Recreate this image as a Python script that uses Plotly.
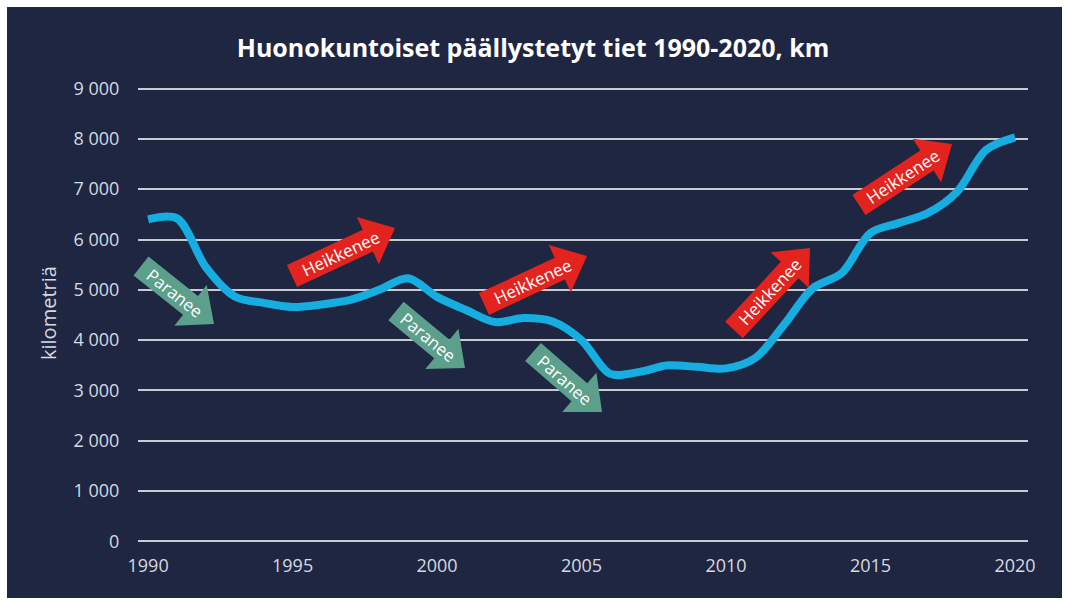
import math
import plotly.graph_objects as go

# ---- data ----
years = list(range(1990, 2021))
km = [6400, 6420, 5450, 4870, 4740, 4660, 4710, 4800, 5000, 5230,
      4860, 4600, 4360, 4440, 4370, 4000, 3330, 3370, 3500, 3470,
      3440, 3640, 4300, 5030, 5330, 6130, 6330, 6530, 6950, 7780, 8030]
y_tickvals = [0, 1000, 2000, 3000, 4000, 5000, 6000, 7000, 8000, 9000]
y_ticktext = ["0", "1 000", "2 000", "3 000", "4 000", "5 000", "6 000", "7 000", "8 000", "9 000"]
x_tickvals = [1990, 1995, 2000, 2005, 2010, 2015, 2020]
title_text = "Huonokuntoiset päällystetyt tiet 1990-2020, km"
y_title = "kilometriä"

# ---- layout geometry (pixels) ----
W, H = 1068, 604
L, R, T, B = 138, 40, 86, 60
PW, PH = W - L - R, H - T - B
BG = "#1f2642"
FONT = "Open Sans"
TICKCOL = "#d6d9e0"

def px(x):
    return (x - L) / PW

def py(y):
    return (H - B - y) / PH

# arrow annotations: (label, colour, tail centre, tip) in pixels
GREEN = "#5c9f8a"
RED = "#e3231d"
arrows = [
    ("Paranee", GREEN, (141, 266), (214, 324)),
    ("Heikkenee", RED, (292, 276), (395, 228)),
    ("Paranee", GREEN, (396, 311), (465, 368)),
    ("Heikkenee", RED, (484, 304), (587, 256)),
    ("Paranee", GREEN, (533, 352), (602, 412)),
    ("Heikkenee", RED, (734, 330), (810, 248)),
    ("Heikkenee", RED, (859, 205), (952, 144)),
]

fig = go.Figure()
fig.add_trace(go.Scatter(
    x=years, y=km, mode="lines",
    line=dict(color="#16ade0", width=8, shape="spline", smoothing=0.9),
    hoverinfo="skip", showlegend=False,
))

shapes = [dict(type="rect", xref="paper", yref="paper",
               x0=px(7), x1=px(1062), y0=py(598), y1=py(7),
               fillcolor=BG, line=dict(width=0), layer="below")]
annotations = []

for label, col, (tx, ty), (hx, hy) in arrows:
    dx, dy = hx - tx, hy - ty
    ln = math.hypot(dx, dy)
    ux, uy = dx / ln, dy / ln
    nx, ny = -uy, ux
    sw, hw, hl = 12, 26, 30
    bx, by = hx - ux * hl, hy - uy * hl
    pts = [
        (tx + nx * sw, ty + ny * sw),
        (bx + nx * sw, by + ny * sw),
        (bx + nx * hw, by + ny * hw),
        (hx, hy),
        (bx - nx * hw, by - ny * hw),
        (bx - nx * sw, by - ny * sw),
        (tx - nx * sw, ty - ny * sw),
    ]
    path = "M " + " L ".join(f"{px(a):.5f},{py(b):.5f}" for a, b in pts) + " Z"
    shapes.append(dict(type="path", xref="paper", yref="paper", path=path,
                       fillcolor=col, line=dict(width=0), layer="above"))
    cx, cy = tx + dx * 0.47, ty + dy * 0.47
    ang = math.degrees(math.atan2(dy, dx))
    annotations.append(dict(x=px(cx), y=py(cy), xref="paper", yref="paper",
                            text=label, showarrow=False, textangle=ang,
                            font=dict(family=FONT, size=17, color="white"),
                            xanchor="center", yanchor="middle"))

annotations.append(dict(x=px(48), y=py(313), xref="paper", yref="paper",
                        text=y_title, showarrow=False, textangle=-90,
                        font=dict(family=FONT, size=20, color=TICKCOL),
                        xanchor="center", yanchor="middle"))

fig.update_layout(
    width=W, height=H,
    margin=dict(l=L, r=R, t=T, b=B),
    paper_bgcolor="white",
    plot_bgcolor="rgba(0,0,0,0)",
    title=dict(text=title_text, x=533 / W, xref="container", xanchor="center",
               y=1 - 48 / H, yref="container", yanchor="middle",
               font=dict(family=FONT, size=25, color="white", weight="bold")),
    shapes=shapes,
    annotations=annotations,
    showlegend=False,
)
fig.update_xaxes(range=[1989.65, 2020.45], tickvals=x_tickvals, showgrid=False,
                 zeroline=False, showline=False, ticks="outside", ticklen=5,
                 tickcolor="rgba(0,0,0,0)",
                 tickfont=dict(family=FONT, size=18, color=TICKCOL))
fig.update_yaxes(range=[-50, 9050], tickvals=y_tickvals, ticktext=y_ticktext,
                 showgrid=True, gridcolor="#c9cbd3", gridwidth=1.5, zeroline=False,
                 showline=False, ticks="outside", ticklen=14,
                 tickcolor="rgba(0,0,0,0)",
                 tickfont=dict(family=FONT, size=18, color=TICKCOL))

fig.write_html("out.html", config={"displayModeBar": False},
               post_script="document.body.style.margin='0';")
